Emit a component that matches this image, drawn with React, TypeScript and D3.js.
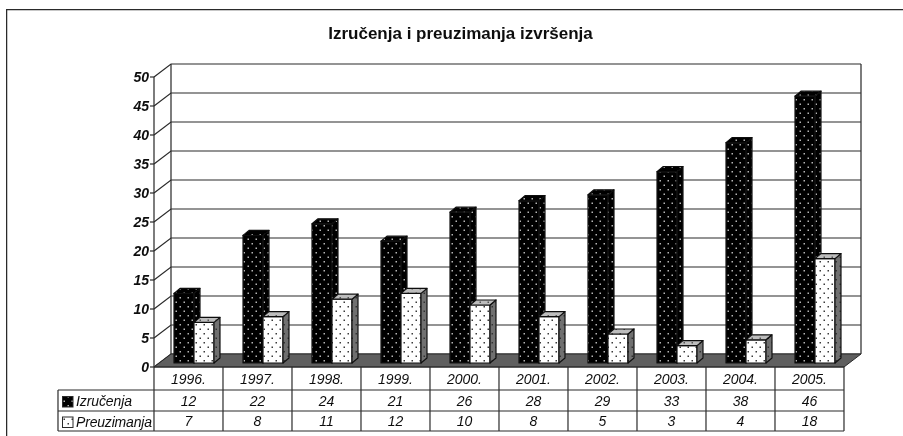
import React from "react";
import * as d3 from "d3";

const years = ["1996.", "1997.", "1998.", "1999.", "2000.", "2001.", "2002.", "2003.", "2004.", "2005."];
const izrucenja = [12, 22, 24, 21, 26, 28, 29, 33, 38, 46];
const preuzimanja = [7, 8, 11, 12, 10, 8, 5, 3, 4, 18];
const yTicks = [0, 5, 10, 15, 20, 25, 30, 35, 40, 45, 50];

const W = 903;
const H = 436;
const FONT = "'Liberation Sans', Arial, sans-serif";
const INK = "#2a2a2a";

// front plane of the chart, the back wall sits at an offset from it
const x = d3.scaleBand<string>().domain(years).range([154, 844]);
const y = d3.scaleLinear().domain([0, 50]).range([367, 77]);
const wallDx = 17;
const wallDy = -13;
const barDx = 6;
const barDy = -5;
const barLift = -4; // bars stand a little way back on the floor
const barW = 20;
const barGap = 20;

const rowY = [367, 390, 411, 431];
const legendLeft = 58;

function Bar({ x0, value, front, side, top }: { x0: number; value: number; front: string; side: string; top: string }) {
  const yb = y(0) + barLift;
  const yt = y(value) + barLift;
  const x1 = x0 + barW;
  const pts = (p: number[][]) => p.map((d) => d.join(",")).join(" ");
  return (
    <g stroke="#111" strokeWidth={1.2} strokeLinejoin="round">
      <rect x={x0} y={yt} width={barW} height={yb - yt} fill={front} />
      <polygon points={pts([[x1, yb], [x1, yt], [x1 + barDx, yt + barDy], [x1 + barDx, yb + barDy]])} fill={side} />
      <polygon points={pts([[x0, yt], [x1, yt], [x1 + barDx, yt + barDy], [x0 + barDx, yt + barDy]])} fill={top} />
    </g>
  );
}

export default function App() {
  const left = x.range()[0];
  const right = x.range()[1];
  const floorY = y(0);

  return (
    <svg width={W} height={H} viewBox={`0 0 ${W} ${H}`} style={{ position: "absolute", left: 0, top: 0, background: "#fff" }}>
      <defs>
        {[
          ["dotDark", "#000", "#b5b5b5"],
          ["dotWhite", "#fff", "#3a3a3a"],
          ["dotSide", "#707070", "#333"],
          ["dotTop", "#bdbdbd", "#555"],
        ].map(([id, bg, dot]) => (
          <pattern key={id} id={id} width={8} height={9} patternUnits="userSpaceOnUse" patternTransform="translate(174 3)">
            <rect width={8} height={9} fill={bg} />
            <rect x={1.5} y={1.5} width={1.5} height={1.5} fill={dot} />
            <rect x={5.5} y={6} width={1.5} height={1.5} fill={dot} />
          </pattern>
        ))}
        <filter id="soft" x="0" y="0" width="100%" height="100%">
          <feGaussianBlur stdDeviation={0.45} />
        </filter>
      </defs>

      <g filter="url(#soft)">
        {/* outer frame, open to the right and bottom */}
        <path d={`M6.5 ${H}V9.5H${W}`} fill="none" stroke={INK} strokeWidth={1.5} />

        <text x={460.5} y={39} textAnchor="middle" fontFamily={FONT} fontWeight={700} fontSize={17} fill="#111">
          Izručenja i preuzimanja izvršenja
        </text>

        {/* walls */}
        {yTicks.map((t) => (
          <g key={t} stroke={INK} strokeWidth={1.2} fill="none">
            <path d={`M${left} ${y(t)}L${left + wallDx} ${y(t) + wallDy}H${right + wallDx}`} />
            <path d={`M${left - 4} ${y(t)}H${left}`} />
          </g>
        ))}
        <path
          d={`M${left} ${y(50)}V${floorY}M${left + wallDx} ${y(50) + wallDy}V${floorY + wallDy}M${right + wallDx} ${y(50) + wallDy}V${floorY + wallDy}`}
          stroke={INK}
          strokeWidth={1.2}
          fill="none"
        />
        <polygon
          points={`${left},${floorY} ${left + wallDx},${floorY + wallDy} ${right + wallDx},${floorY + wallDy} ${right},${floorY}`}
          fill="#5f5f5f"
          stroke={INK}
        />

        {yTicks.map((t) => (
          <text key={t} x={left - 5} y={y(t) + 5} textAnchor="end" fontFamily={FONT} fontStyle="italic" fontWeight={700} fontSize={14} fill="#111">
            {t}
          </text>
        ))}

        {/* bars */}
        {years.map((yr, i) => {
          const x0 = (x(yr) as number) + barGap;
          return (
            <g key={yr}>
              <Bar x0={x0} value={izrucenja[i]} front="url(#dotDark)" side="url(#dotDark)" top="url(#dotDark)" />
              <Bar x0={x0 + barW} value={preuzimanja[i]} front="url(#dotWhite)" side="url(#dotSide)" top="url(#dotTop)" />
            </g>
          );
        })}

        {/* data table */}
        <g stroke={INK} strokeWidth={1.2} fill="none">
          <path d={`M${left} ${rowY[0]}H${right}`} />
          <path d={`M${legendLeft} ${rowY[1]}H${right}`} />
          <path d={`M${legendLeft} ${rowY[2]}H${right}`} />
          <path d={`M${legendLeft} ${rowY[3]}H${right}`} />
          <path d={`M${legendLeft} ${rowY[1]}V${rowY[3]}`} />
          {[...years.map((d) => x(d) as number), right].map((d) => (
            <path key={d} d={`M${d} ${rowY[0]}V${rowY[3]}`} />
          ))}
        </g>
        <g fontFamily={FONT} fontStyle="italic" fontSize={14} fill="#111" textAnchor="middle">
          {years.map((yr, i) => {
            const cx = (x(yr) as number) + x.bandwidth() / 2;
            return (
              <g key={yr}>
                <text x={cx} y={384}>{yr}</text>
                <text x={cx} y={406}>{izrucenja[i]}</text>
                <text x={cx} y={426}>{preuzimanja[i]}</text>
              </g>
            );
          })}
        </g>

        {/* legend keys */}
        <rect x={62.5} y={396.5} width={10.5} height={10.5} fill="url(#dotDark)" stroke={INK} />
        <rect x={62.5} y={417} width={10.5} height={10.5} fill="url(#dotWhite)" stroke={INK} />
        <g fontFamily={FONT} fontStyle="italic" fontSize={14} fill="#111">
          <text x={76} y={406} textLength={56}>Izručenja</text>
          <text x={76} y={427} textLength={76}>Preuzimanja</text>
        </g>
      </g>
    </svg>
  );
}
